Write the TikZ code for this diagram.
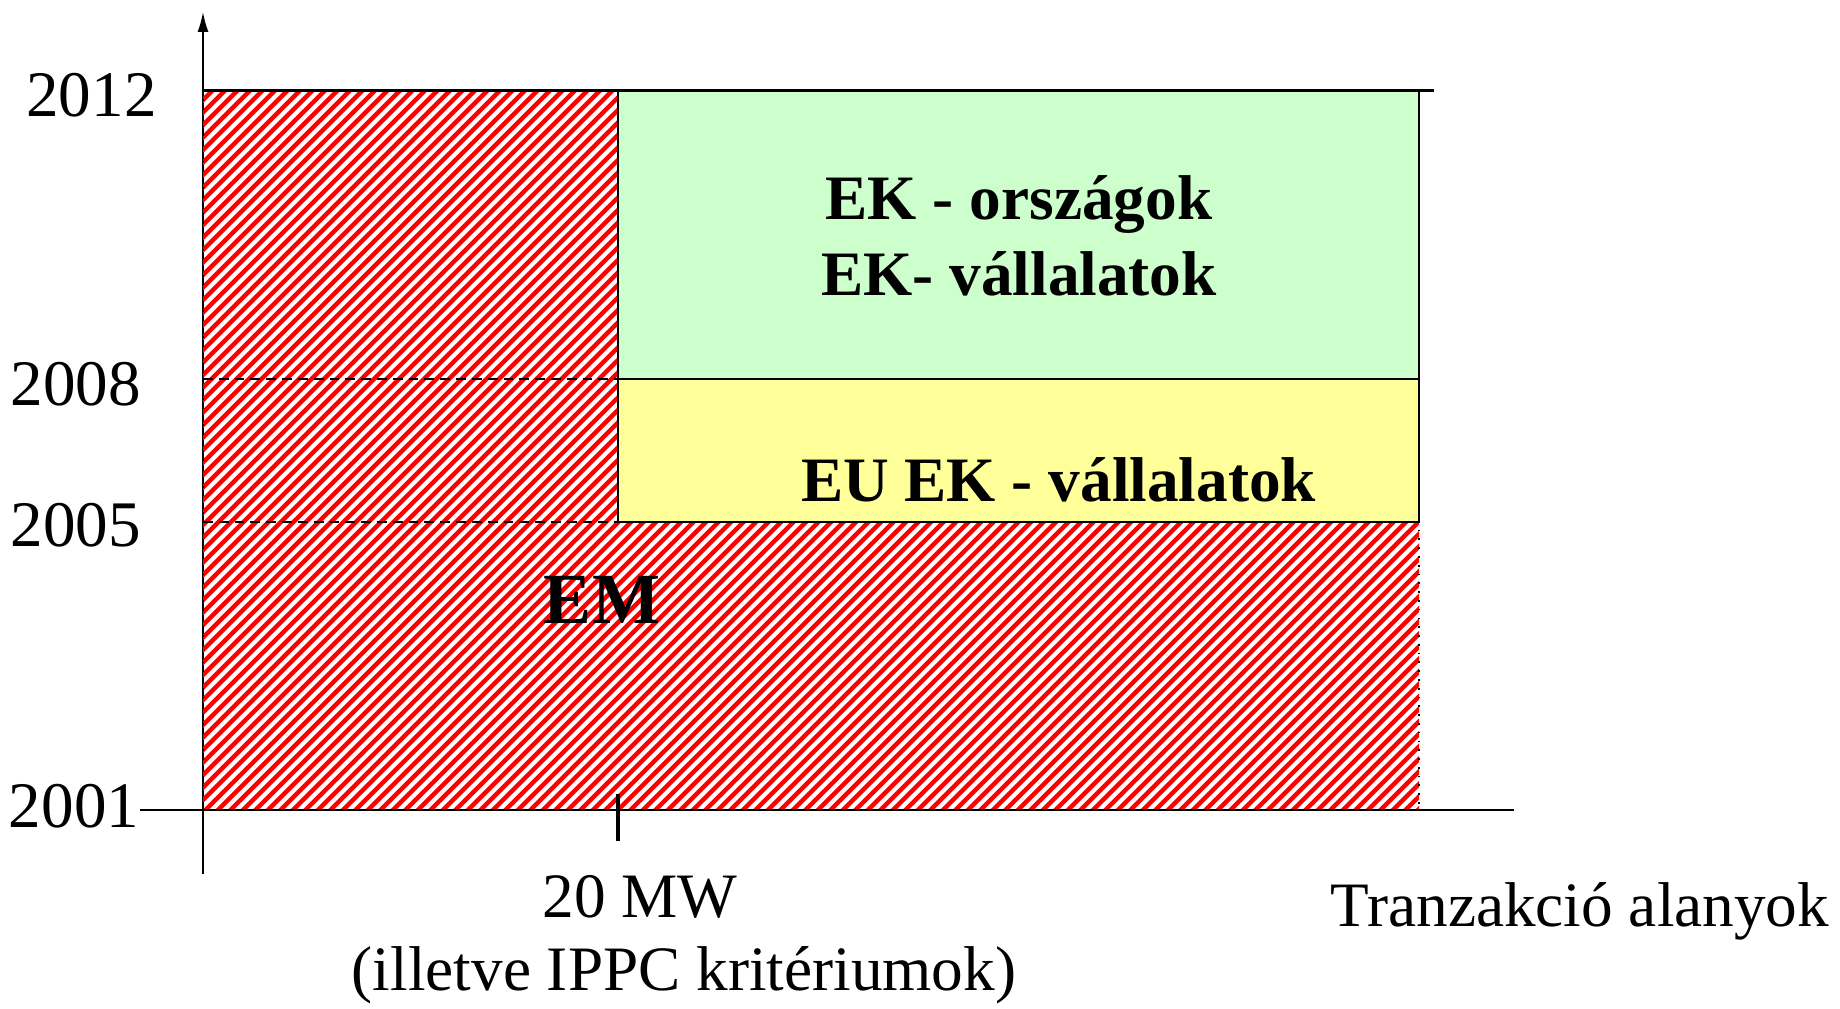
\documentclass[tikz,border=0pt]{standalone}
\usepackage{fontspec}
\setmainfont{Liberation Serif}
\usetikzlibrary{arrows.meta}
\definecolor{ekgreen}{HTML}{CCFFCC}
\definecolor{euyellow}{HTML}{FFFF99}
\tikzset{
  yearlabel/.style={font=\fontsize{18.5}{20}\selectfont},
  boxlabel/.style={font=\fontsize{18}{21.6}\selectfont\bfseries, align=center},
  stripe/.style={red, line width=1.25pt},
  boxedge/.style={black, line width=0.8pt},
}
\begin{document}
\begin{tikzpicture}[line width=0.5pt, every node/.style={font=\fontsize{18}{22}\selectfont}]
  \useasboundingbox (0,0) rectangle (18.4,10.08);
  % corners of the regions
  \coordinate (o)   at (2.03,1.98);
  \coordinate (m01) at (6.18,1.98);
  \coordinate (r01) at (14.19,1.98);
  \coordinate (r05) at (14.19,4.86);
  \coordinate (l05) at (2.03,4.86);
  \coordinate (m05) at (6.18,4.86);
  \coordinate (l08) at (2.03,6.29);
  \coordinate (m08) at (6.18,6.29);
  \coordinate (l12) at (2.03,9.176);
  \coordinate (m12) at (6.18,9.176);
  \coordinate (r12) at (14.19,9.176);
  % axes
  \coordinate (yfoot) at (2.03,1.34);
  \coordinate (ytip)  at (2.03,9.96);
  \coordinate (xend)  at (15.14,1.98);
  \coordinate (topend) at (14.34,9.176);
  \draw[-{Latex[length=0.2cm,width=0.11cm]}] (yfoot) -- (ytip);
  % hatched part (EM)
  \begin{scope}
    \clip (o) rectangle (m12) (o) rectangle (r05);
    \foreach \i in {0,...,160}
      \draw[stripe] ({-7.3+0.125*\i},0) -- ++(10,10);
  \end{scope}
  \draw[dotted] (l12) -- (o) -- (r01) -- (r05);
  \draw[dash pattern=on 2.8pt off 1.7pt] (l08) -- (m08);
  \draw[dash pattern=on 2.8pt off 1.7pt] (l05) -- (m05);
  % EK boxes
  \draw[boxedge, fill=ekgreen] (m08) rectangle (r12);
  \draw[boxedge, fill=euyellow] (m05) rectangle (m08 -| r05);
  \draw[boxedge] (l12) -- (topend);
  % years
  \node[yearlabel] (y12) at (0.915,9.13) {2012};
  \node[yearlabel] (y08) at (0.76,6.24) {2008};
  \node[yearlabel] (y05) at (0.76,4.83) {2005};
  \node[yearlabel, inner sep=0pt] (y01) at (0.74,2.02) {2001};
  \draw (y01.east |- o) -- (xend);
  % 20 MW tick
  \coordinate (ticktop) at (6.18,2.135);
  \coordinate (tickbot) at (6.18,1.666);
  \draw[line width=1.1pt] (ticktop) -- (tickbot);
  \node (mw) at (6.40,1.11) {20 MW};
  \node (ippc) at (6.84,0.33) {(illetve IPPC kritériumok)};
  \node (alanyok) at (15.80,0.97) {Tranzakció alanyok};
  % region labels
  \node[boxlabel] (ek) at (10.19,7.72) {EK - országok\\EK- vállalatok};
  \node[boxlabel] (euek) at (10.585,5.28) {EU EK - vállalatok};
  \node[font=\fontsize{20.5}{24}\selectfont\bfseries] (em) at (6.02,4.08) {EM};
\end{tikzpicture}
\end{document}
